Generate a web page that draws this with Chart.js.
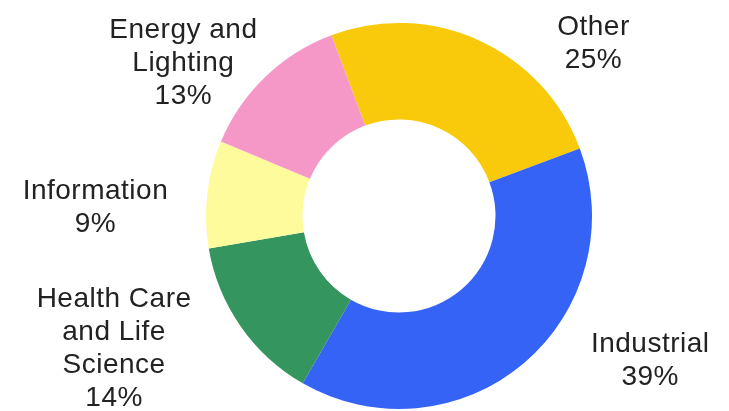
<!DOCTYPE html>
<html>
<head>
<meta charset="utf-8">
<title>Market share by sector</title>
<script src="https://cdn.jsdelivr.net/npm/chart.js@4/dist/chart.umd.min.js"></script>
<style>
    html, body { margin: 0; padding: 0; background: #ffffff; }
    canvas { display: block; }
</style>
</head>
<body>
<canvas id="sectorChart" width="729" height="411"></canvas>
<script>
// segments run clockwise, starting just left of twelve o'clock
const sectors = [
    ["Other"],
    ["Industrial"],
    ["Health Care", "and Life", "Science"],
    ["Information"],
    ["Energy and", "Lighting"]
];
const shares = [25, 39, 14, 9, 13];
const sliceColors = ["#f9ca0c", "#3563f5", "#34955f", "#fdfb9b", "#f598c8"];

// pixel nudges applied to each label after placing it outside its slice
const labelNudge = [[102, 22], [107, -34], [-102, -37], [-82, 8], [-61, -17]];

const outsideLabels = {
    id: "outsideLabels",
    afterDatasetsDraw(chart) {
        const ctx = chart.ctx;
        const meta = chart.getDatasetMeta(0);
        ctx.save();
        ctx.font = "28px 'Liberation Sans', Arial, Helvetica, sans-serif";
        ctx.letterSpacing = "0.5px";
        ctx.fillStyle = "#222222";
        ctx.textAlign = "center";
        ctx.textBaseline = "alphabetic";
        meta.data.forEach(function (arc, i) {
            const p = arc.getProps(["x", "y", "startAngle", "endAngle", "outerRadius"], true);
            const mid = (p.startAngle + p.endAngle) / 2;
            const dist = p.outerRadius + 30;
            const x = p.x + Math.cos(mid) * dist + labelNudge[i][0];
            let y = p.y + Math.sin(mid) * dist + labelNudge[i][1];
            const lines = sectors[i].concat([shares[i] + "%"]);
            lines.forEach(function (line) {
                ctx.fillText(line, x, y);
                y += 33;
            });
        });
        ctx.restore();
    }
};

new Chart(document.getElementById("sectorChart"), {
    type: "doughnut",
    data: {
        labels: sectors,
        datasets: [{
            data: shares,
            backgroundColor: sliceColors,
            borderWidth: 0
        }]
    },
    options: {
        responsive: false,
        animation: false,
        rotation: -20.5,
        cutout: "50%",
        layout: {
            padding: { left: 206, right: 137, top: 23, bottom: 2 }
        },
        plugins: {
            legend: { display: false },
            tooltip: { enabled: false }
        }
    },
    plugins: [outsideLabels]
});
</script>
</body>
</html>
